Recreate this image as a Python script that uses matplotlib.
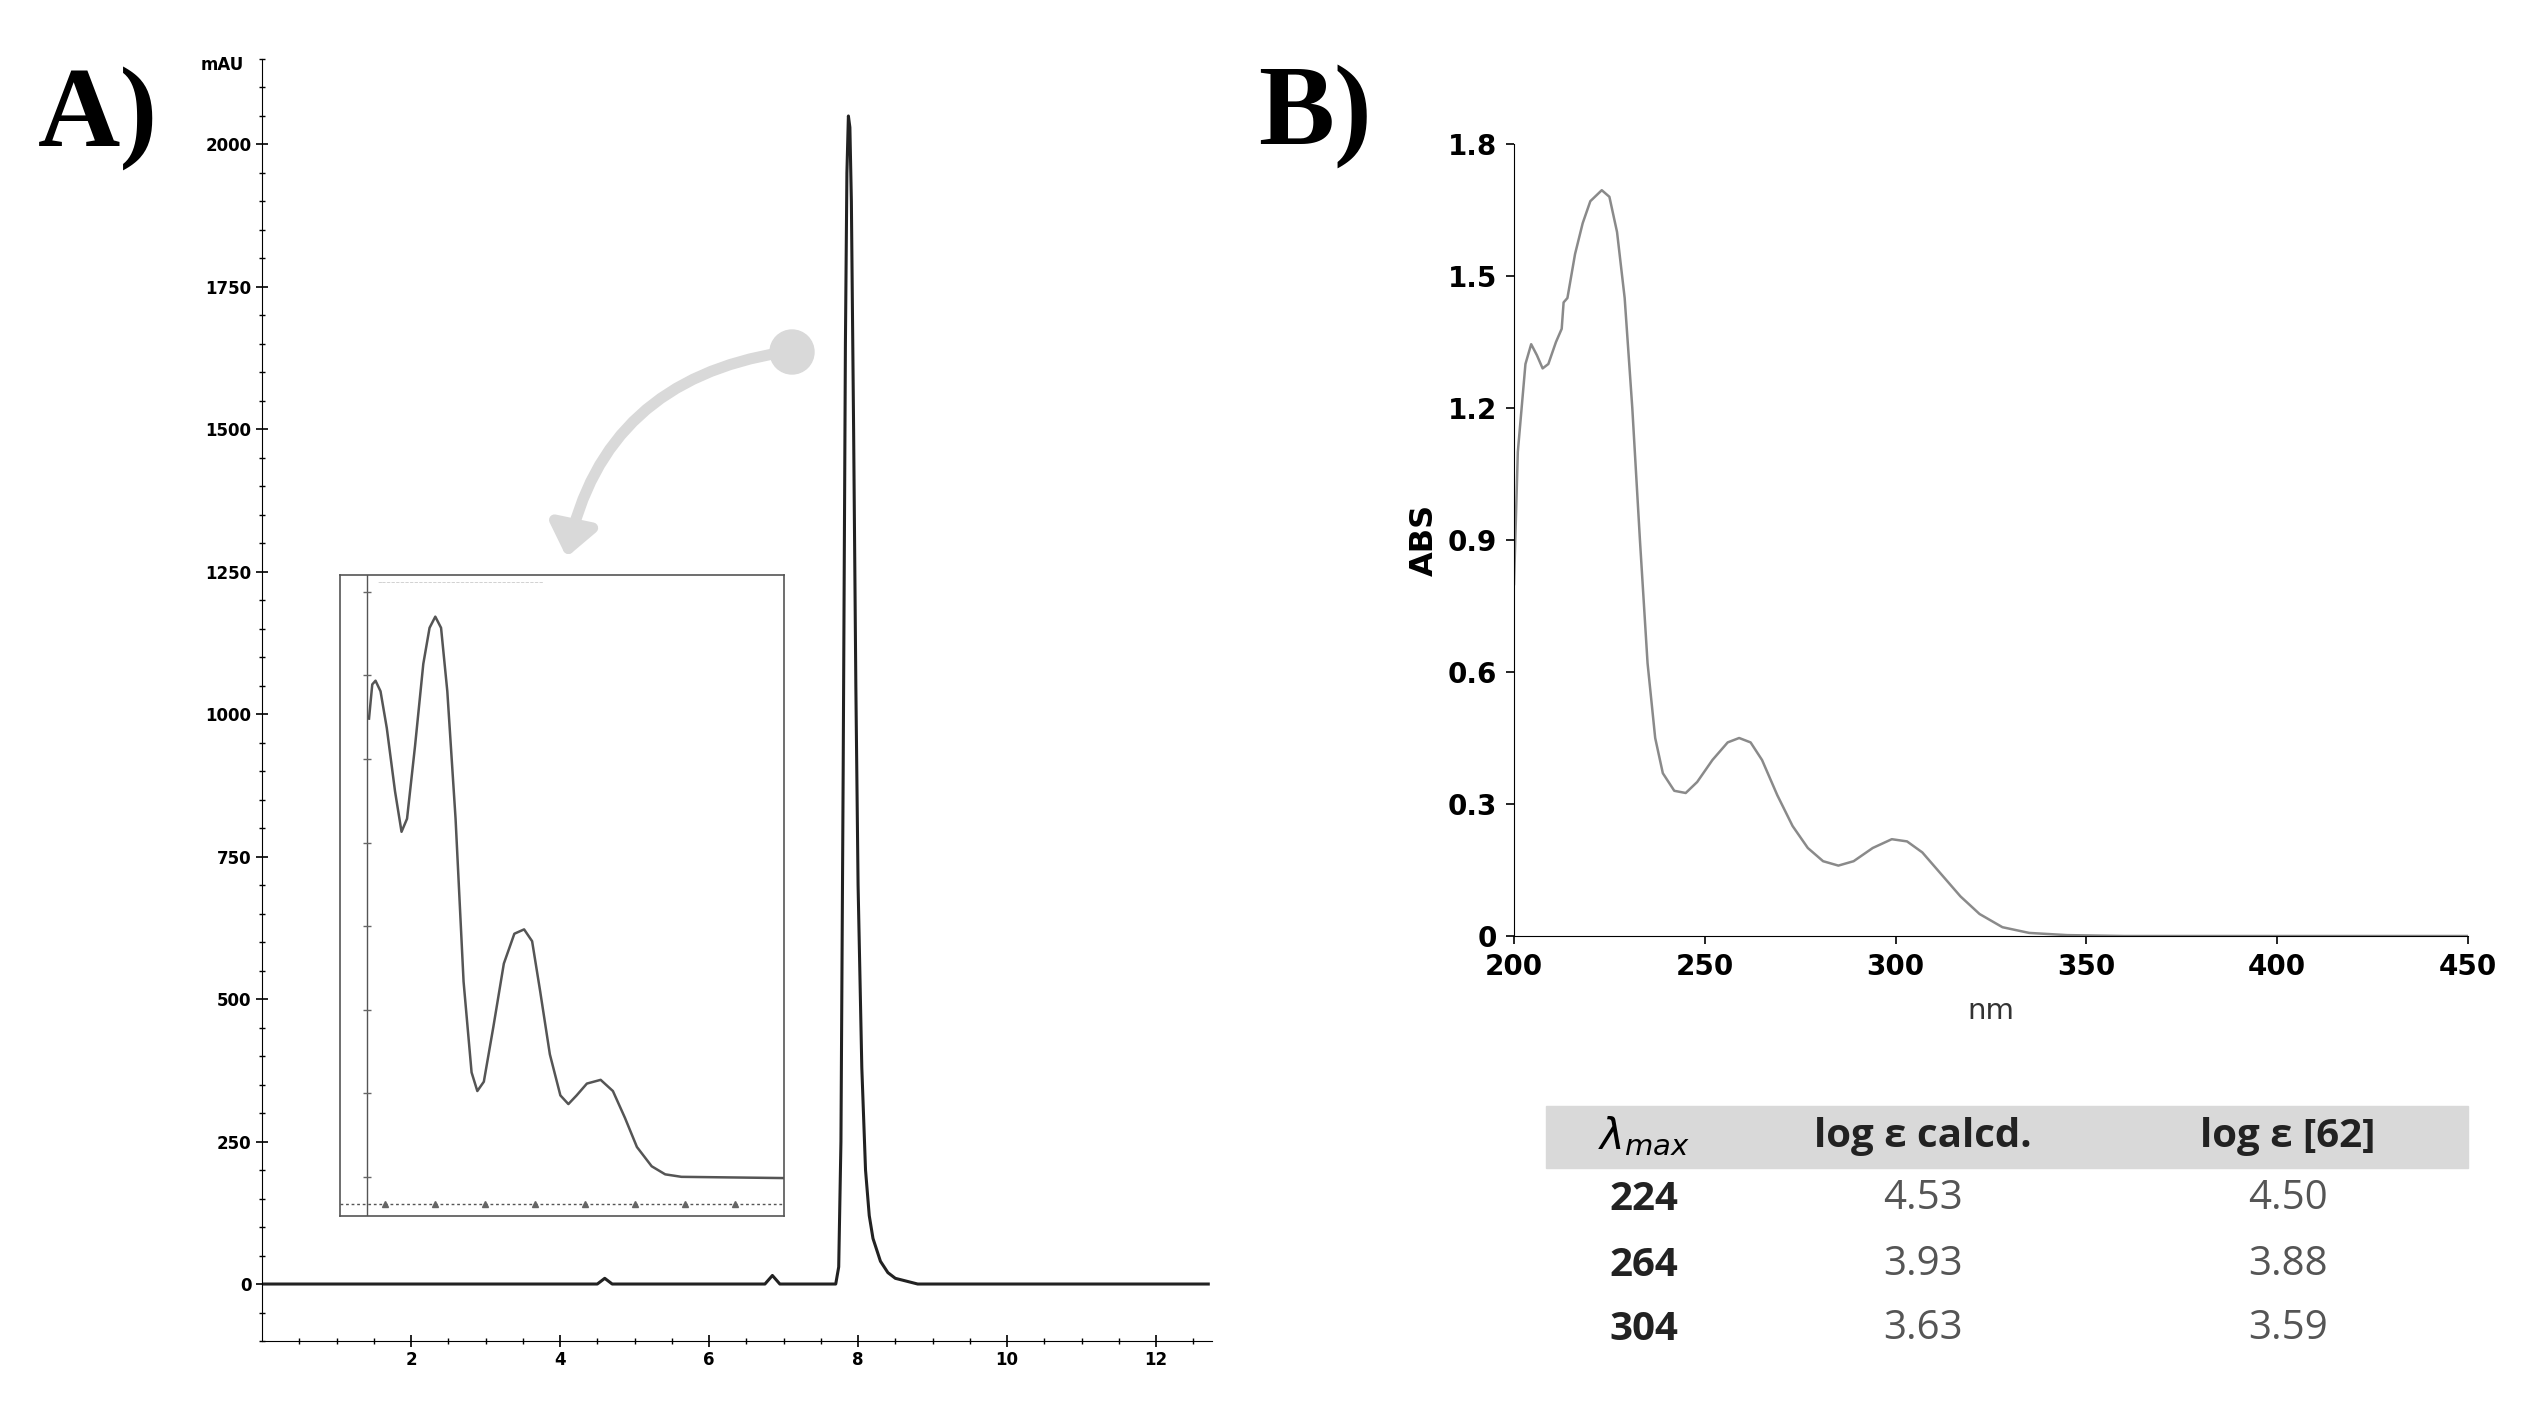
import numpy as np
import matplotlib; matplotlib.use("Agg")
import matplotlib.pyplot as plt
from matplotlib.patches import FancyArrowPatch, Rectangle, Ellipse

W, H = 2523, 1409

# --- A) chromatogram (time min, mAU)
chrom_t = [0, 1.5, 4.5, 4.6, 4.7, 6.75, 6.85, 6.95, 7.70, 7.74, 7.77, 7.80, 7.83, 7.85, 7.87,
           7.89, 7.91, 7.94, 7.97, 8.00, 8.05, 8.10, 8.15, 8.20, 8.30, 8.40, 8.50, 8.80, 12.7]
chrom_mau = [0, 0, 0, 10, 0, 0, 15, 0, 0, 30, 250, 900, 1650, 1950, 2050,
             2030, 1900, 1500, 1050, 700, 380, 200, 120, 80, 40, 20, 10, 0, 0]

# inset: UV spectrum of the peak (nm, relative)
ins_nm = [193.5, 194.8, 196.1, 198.1, 200.6, 203.9, 206.5, 208.7, 211.9, 215.2, 217.7, 220.0,
          222.3, 224.8, 228.1, 231.3, 234.5, 236.8, 239.4, 243.2, 247.4, 251.6, 255.5, 258.7,
          261.9, 265.8, 270.0, 273.2, 276.5, 280.6, 286.1, 291.0, 295.8, 300.6, 306.5, 311.9,
          318.4, 359.4]
ins_rel = [0.781, 0.836, 0.842, 0.825, 0.766, 0.664, 0.599, 0.620, 0.737, 0.869, 0.927, 0.945,
           0.927, 0.825, 0.620, 0.358, 0.212, 0.182, 0.197, 0.285, 0.387, 0.435, 0.442, 0.423,
           0.343, 0.241, 0.175, 0.161, 0.175, 0.194, 0.200, 0.182, 0.139, 0.092, 0.061, 0.048,
           0.044, 0.042]

# --- B) UV spectrum
uv_nm = [200, 201, 203, 204.5, 206, 207.5, 209, 211, 212.5, 213, 214, 216, 218, 220, 223, 225,
         227, 229, 231, 233, 235, 237, 239, 242, 245, 248, 252, 256, 259, 262, 265, 269, 273,
         277, 281, 285, 289, 294, 299, 303, 307, 312, 317, 322, 328, 335, 345, 360, 450]
uv_abs = [0.80, 1.10, 1.30, 1.345, 1.32, 1.29, 1.30, 1.35, 1.38, 1.44, 1.45, 1.55, 1.62, 1.67,
          1.695, 1.68, 1.60, 1.45, 1.20, 0.90, 0.62, 0.45, 0.37, 0.33, 0.325, 0.35, 0.40, 0.44,
          0.45, 0.44, 0.40, 0.32, 0.25, 0.20, 0.17, 0.16, 0.17, 0.20, 0.22, 0.215, 0.19, 0.14,
          0.09, 0.05, 0.02, 0.007, 0.002, 0, 0]

tbl_head = ["log ε calcd.", "log ε [62]"]
tbl_lmax = ["224", "264", "304"]
tbl_calc = ["4.53", "3.93", "3.63"]
tbl_lit = ["4.50", "3.88", "3.59"]


def fx(px): return px / W
def fy(py): return 1 - py / H


fig = plt.figure(figsize=(W / 100, H / 100), dpi=100)

# ---------------- A
axA = fig.add_axes([fx(262), fy(1341), fx(1212) - fx(262), fy(59) - fy(1341)])
axA.plot(chrom_t, chrom_mau, color="#222", lw=2.2)
axA.set_xlim(0, 12.75); axA.set_ylim(-100, 2150)
for sp in ("top", "right"):
    axA.spines[sp].set_visible(False)
axA.set_yticks(np.arange(0, 2001, 250))
axA.set_yticks(np.arange(-100, 2151, 50), minor=True)
axA.set_xticks(np.arange(2, 13, 2))
axA.set_xticks(np.arange(0.5, 12.75, 0.5), minor=True)
axA.tick_params(direction="inout", length=8, width=1.2, labelsize=12)
axA.tick_params(which="minor", direction="inout", length=4, width=1)
for lb in axA.get_xticklabels() + axA.get_yticklabels():
    lb.set_fontweight("bold")
fig.text(fx(222), fy(65), "mAU", fontsize=12, fontweight="bold", ha="center", va="center")
fig.text(fx(38), fy(118), "A)", fontsize=82, fontweight="bold", family="Liberation Serif",
         ha="left", va="center")

# inset
axI = fig.add_axes([fx(340), fy(1216), fx(784) - fx(340), fy(575) - fy(1216)])
axI.plot(ins_nm, ins_rel, color="#555", lw=1.8)
axI.set_xlim(181.9, 359.4); axI.set_ylim(-0.019, 1.012)
axI.set_xticks([]); axI.set_yticks([])
for sp in axI.spines.values():
    sp.set_color("#555"); sp.set_linewidth(1.2)
axI.axvline(192.6, color="#555", lw=1)
axI.axhline(0, color="#555", lw=1, ls=(0, (2, 2)))
axI.plot(np.arange(200, 341, 20), np.zeros(8), "^", color="#666", ms=4)
axI.plot(np.full(8, 192.6), np.linspace(0.044, 0.985, 8), "_", color="#666", ms=6)
axI.text(197, 1.0, "~~~~~~~~~~~~~~~~~~~~~~~~~~~~~~~~~~~~", fontsize=4, color="#999", va="center")

# arrow
fig.add_artist(Ellipse((fx(792), fy(352)), 44 / W, 44 / H, transform=fig.transFigure,
                       color="#d9d9d9", zorder=5))
fig.add_artist(FancyArrowPatch((fx(785), fy(352)), (fx(566), fy(560)),
                               transform=fig.transFigure, connectionstyle="arc3,rad=0.35",
                               arrowstyle="-|>,head_length=18,head_width=14",
                               lw=8, color="#d9d9d9", zorder=5))

# ---------------- B
axB = fig.add_axes([fx(1514), fy(936), fx(2468) - fx(1514), fy(144) - fy(936)])
axB.plot(uv_nm, uv_abs, color="#8a8a8a", lw=1.8)
axB.set_xlim(200, 450); axB.set_ylim(0, 1.8)
for sp in ("top", "right"):
    axB.spines[sp].set_visible(False)
axB.set_xticks(np.arange(200, 451, 50))
axB.set_yticks([0, 0.3, 0.6, 0.9, 1.2, 1.5, 1.8])
axB.set_yticklabels(["0", "0.3", "0.6", "0.9", "1.2", "1.5", "1.8"])
axB.tick_params(direction="out", length=6, width=1.2, labelsize=20, pad=6)
for lb in axB.get_xticklabels() + axB.get_yticklabels():
    lb.set_fontweight("bold")
axB.set_ylabel("ABS", fontsize=23, fontweight="bold", labelpad=6)
axB.set_xlabel("nm", fontsize=21, color="#333", labelpad=12)
fig.text(fx(1258), fy(116), "B)", fontsize=82, fontweight="bold", family="Liberation Serif",
         ha="left", va="center")

# table
fig.add_artist(Rectangle((fx(1546), fy(1168)), fx(2468) - fx(1546), fy(1106) - fy(1168),
                         transform=fig.transFigure, color="#d9d9d9", zorder=0))
colx = [fx(1644), fx(1923), fx(2288)]
fig.text(colx[0], fy(1137), r"$\lambda_{max}$", fontsize=30, ha="center", va="center")
for x, t in zip(colx[1:], tbl_head):
    fig.text(x, fy(1137), t, fontsize=29, fontweight="bold", family="Open Sans",
             color="#222", ha="center", va="center")
for py, a, b, c in zip([1199, 1265, 1329], tbl_lmax, tbl_calc, tbl_lit):
    fig.text(colx[0], fy(py), a, fontsize=29, fontweight="bold", family="Open Sans",
             color="#222", ha="center", va="center")
    fig.text(colx[1], fy(py), b, fontsize=29, family="Open Sans", color="#555",
             ha="center", va="center")
    fig.text(colx[2], fy(py), c, fontsize=29, family="Open Sans", color="#555",
             ha="center", va="center")

fig.savefig("out.png", dpi=100)
